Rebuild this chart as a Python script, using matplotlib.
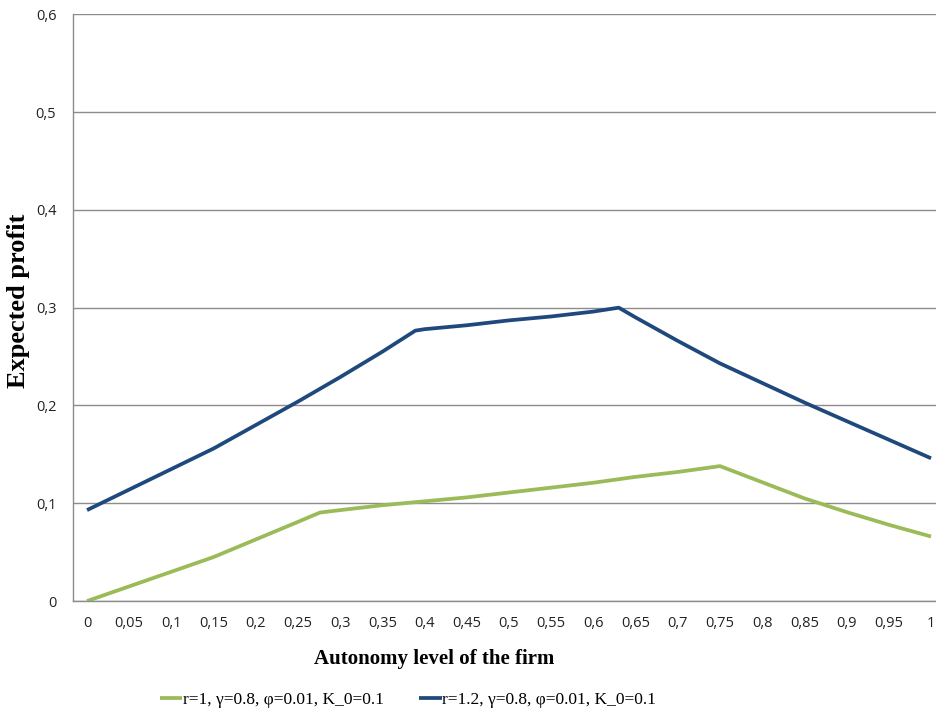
import matplotlib.pyplot as plt

# autonomy level and expected profit
x_r1 = [0, 0.05, 0.10, 0.15, 0.20, 0.25, 0.276, 0.30, 0.35, 0.40, 0.45, 0.50,
        0.55, 0.60, 0.65, 0.70, 0.75, 0.80, 0.85, 0.90, 0.95, 1.0]
y_r1 = [0.000, 0.015, 0.030, 0.045, 0.063, 0.081, 0.0905, 0.093, 0.098, 0.102,
        0.106, 0.111, 0.116, 0.121, 0.127, 0.132, 0.138, 0.1215, 0.105, 0.091,
        0.078, 0.066]

x_r12 = [0, 0.05, 0.10, 0.15, 0.20, 0.25, 0.30, 0.35, 0.389, 0.40, 0.45, 0.50,
         0.55, 0.60, 0.63, 0.65, 0.70, 0.75, 0.80, 0.85, 0.90, 0.95, 1.0]
y_r12 = [0.093, 0.114, 0.135, 0.156, 0.180, 0.204, 0.229, 0.255, 0.2765, 0.278,
         0.282, 0.287, 0.291, 0.296, 0.300, 0.290, 0.266, 0.243, 0.223, 0.203,
         0.184, 0.165, 0.146]

labels = ['r=1, γ=0.8, φ=0.01, K_0=0.1', 'r=1.2, γ=0.8, φ=0.01, K_0=0.1']
xticks = [i * 0.05 for i in range(21)]
yticks = [0, 0.1, 0.2, 0.3, 0.4, 0.5, 0.6]


def comma(v):
    s = ('%.2f' % v).rstrip('0').rstrip('.')
    return s.replace('.', ',')


fig = plt.figure(figsize=(9.36, 7.13), dpi=100)
ax = fig.add_axes([0.078, 0.157, 0.922, 0.823])

ax.plot(x_r1, y_r1, color='#9BBB59', lw=2.7, label=labels[0], solid_capstyle='butt')
ax.plot(x_r12, y_r12, color='#1F497D', lw=2.7, label=labels[1], solid_capstyle='butt')

ax.set_xlim(-0.0166, 1.0059)
ax.set_ylim(0, 0.6)
ax.set_xticks(xticks)
ax.set_xticklabels([comma(v) for v in xticks])
ax.set_yticks(yticks)
ax.set_yticklabels([comma(v) for v in yticks])
ax.tick_params(length=0, labelsize=10.5, colors='#222222')
ax.tick_params(axis='x', pad=11)
ax.tick_params(axis='y', pad=12)
for t in ax.get_xticklabels() + ax.get_yticklabels():
    t.set_fontfamily('Open Sans')

ax.grid(axis='y', color='#8c8c8c', lw=1)
ax.set_axisbelow(True)
for s in ['top', 'right']:
    ax.spines[s].set_visible(False)
for s in ['left', 'bottom']:
    ax.spines[s].set_color('#8c8c8c')
    ax.spines[s].set_linewidth(1)

ax.set_xlabel('Autonomy level of the firm', fontsize=15, fontweight='bold',
              family='Liberation Serif')
ax.xaxis.set_label_coords(0.418, -0.082)
ax.set_ylabel('Expected profit', fontsize=19, fontweight='bold',
              family='Liberation Serif')
ax.yaxis.set_label_coords(-0.05, 0.512)

fig.legend(loc='center', bbox_to_anchor=(0.436, 0.018), ncol=2, frameon=False,
           prop={'family': 'Liberation Serif', 'size': 12.5}, handlelength=1.3,
           handletextpad=0.05, columnspacing=2.0)

fig.savefig('out.png')
